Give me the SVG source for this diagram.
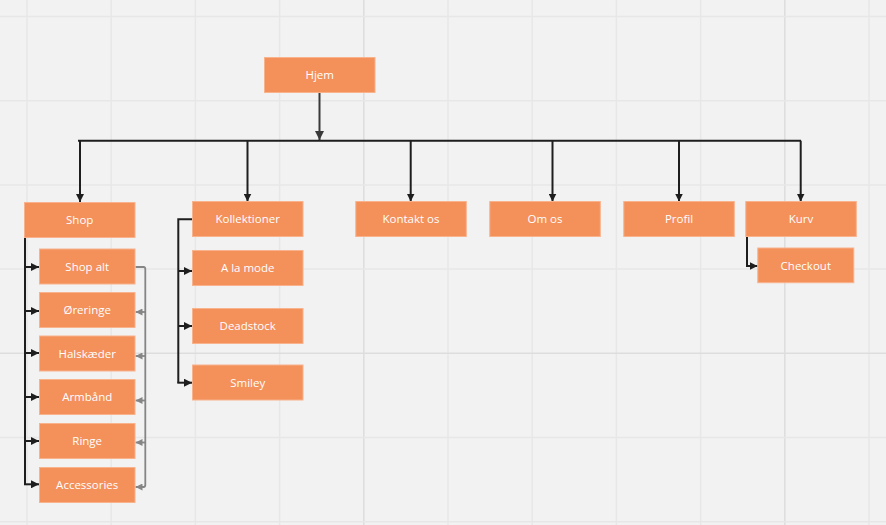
<svg xmlns="http://www.w3.org/2000/svg" width="886" height="525" viewBox="0 0 886 525">
  <style>
    .grid { stroke: #e7e7e7; stroke-width: 1.5; }
    .major { stroke: #dddddd; stroke-width: 1.5; }
    .box { fill: #f4905a; stroke: #f8b28c; stroke-width: 1; }
    .label { font-family: "Open Sans", "Liberation Sans", sans-serif; font-size: 11.5px; fill: #ffffff; text-anchor: middle; }
    .link { fill: none; stroke: #1e1e1e; stroke-width: 2; }
    .link-soft { fill: none; stroke: #3a3a3a; stroke-width: 2; }
    .link-grey { fill: none; stroke: #858585; stroke-width: 1.8; }
  </style>
  <defs>
    <marker id="arrow" viewBox="0 0 10 10" refX="10" refY="5" markerWidth="8" markerHeight="8" markerUnits="userSpaceOnUse" orient="auto">
      <path d="M0,0 L10,5 L0,10 z" fill="#1e1e1e"/>
    </marker>
    <marker id="arrow-soft" viewBox="0 0 10 10" refX="10" refY="5" markerWidth="9" markerHeight="9" markerUnits="userSpaceOnUse" orient="auto">
      <path d="M0,0 L10,5 L0,10 z" fill="#3a3a3a"/>
    </marker>
    <marker id="arrow-grey" viewBox="0 0 10 10" refX="10" refY="5" markerWidth="7" markerHeight="7" markerUnits="userSpaceOnUse" orient="auto">
      <path d="M0,0 L10,5 L0,10 z" fill="#858585"/>
    </marker>
  </defs>

  <!-- canvas -->
  <rect x="0" y="0" width="886" height="525" fill="#f2f2f2"/>
  <g id="grid">
    <line class="grid" x1="27" y1="0" x2="27" y2="525"/>
    <line class="grid" x1="111.2" y1="0" x2="111.2" y2="525"/>
    <line class="grid" x1="195.4" y1="0" x2="195.4" y2="525"/>
    <line class="grid" x1="279.6" y1="0" x2="279.6" y2="525"/>
    <line class="major" x1="363.8" y1="0" x2="363.8" y2="525"/>
    <line class="grid" x1="448" y1="0" x2="448" y2="525"/>
    <line class="grid" x1="532.2" y1="0" x2="532.2" y2="525"/>
    <line class="grid" x1="616.4" y1="0" x2="616.4" y2="525"/>
    <line class="grid" x1="700.6" y1="0" x2="700.6" y2="525"/>
    <line class="major" x1="784.8" y1="0" x2="784.8" y2="525"/>
    <line class="grid" x1="869" y1="0" x2="869" y2="525"/>
    <line class="grid" x1="0" y1="16.5" x2="886" y2="16.5"/>
    <line class="grid" x1="0" y1="100.7" x2="886" y2="100.7"/>
    <line class="grid" x1="0" y1="184.9" x2="886" y2="184.9"/>
    <line class="grid" x1="0" y1="269.1" x2="886" y2="269.1"/>
    <line class="major" x1="0" y1="353.3" x2="886" y2="353.3"/>
    <line class="grid" x1="0" y1="437.5" x2="886" y2="437.5"/>
    <line class="grid" x1="0" y1="521.7" x2="886" y2="521.7"/>
  </g>

  <!-- connectors -->
  <g id="connectors">
    <path class="link-soft" d="M319.5,92.5 V140" marker-end="url(#arrow-soft)"/>
    <path class="link" d="M78,140.7 H801"/>
    <path class="link" d="M80,140.7 V202" marker-end="url(#arrow)"/>
    <path class="link" d="M247.5,140.7 V201.5" marker-end="url(#arrow)"/>
    <path class="link" d="M410.7,140.7 V201.5" marker-end="url(#arrow)"/>
    <path class="link" d="M552.5,140.7 V201.5" marker-end="url(#arrow)"/>
    <path class="link" d="M679,140.7 V201.5" marker-end="url(#arrow)"/>
    <path class="link" d="M800.7,140.7 V201.5" marker-end="url(#arrow)"/>

    <!-- Shop branch -->
    <path class="link" d="M25,237.5 V484.3"/>
    <path class="link" d="M25,267 H39" marker-end="url(#arrow)"/>
    <path class="link" d="M25,311 H39" marker-end="url(#arrow)"/>
    <path class="link" d="M25,353 H39" marker-end="url(#arrow)"/>
    <path class="link" d="M25,397 H39" marker-end="url(#arrow)"/>
    <path class="link" d="M25,441 H39" marker-end="url(#arrow)"/>
    <path class="link" d="M24,484.3 H39" marker-end="url(#arrow)"/>

    <!-- Shop alt side links -->
    <path class="link-grey" d="M135.5,267 H143.5 Q145.3,267 145.3,269 V485 Q145.3,487 143.5,487 H135.5" marker-end="url(#arrow-grey)"/>
    <path class="link-grey" d="M145.3,312 H135.5" marker-end="url(#arrow-grey)"/>
    <path class="link-grey" d="M145.3,356 H135.5" marker-end="url(#arrow-grey)"/>
    <path class="link-grey" d="M145.3,400.5 H135.5" marker-end="url(#arrow-grey)"/>
    <path class="link-grey" d="M145.3,442.5 H135.5" marker-end="url(#arrow-grey)"/>

    <!-- Kollektioner branch -->
    <path class="link" d="M192,219.3 H178.3 V382.7"/>
    <path class="link" d="M178.3,271 H192" marker-end="url(#arrow)"/>
    <path class="link" d="M178.3,326 H192" marker-end="url(#arrow)"/>
    <path class="link" d="M177.3,382.7 H192" marker-end="url(#arrow)"/>

    <!-- Kurv branch -->
    <path class="link" d="M747,237 V266 H757.5" marker-end="url(#arrow)"/>
  </g>

  <!-- nodes -->
  <g id="hjem"><rect class="box" x="264.5" y="57.5" width="110.5" height="35"/><text class="label" x="319.7" y="79">Hjem</text></g>

  <g id="shop"><rect class="box" x="24.5" y="202.5" width="110.5" height="35"/><text class="label" x="79.7" y="224">Shop</text></g>
  <g id="shop-alt"><rect class="box" x="39.5" y="249" width="95.5" height="35"/><text class="label" x="87.2" y="270.5">Shop alt</text></g>
  <g id="oreringe"><rect class="box" x="39.5" y="292.5" width="95.5" height="35"/><text class="label" x="87.2" y="314">Øreringe</text></g>
  <g id="halskaeder"><rect class="box" x="39.5" y="336" width="95.5" height="35"/><text class="label" x="87.2" y="357.5">Halskæder</text></g>
  <g id="armband"><rect class="box" x="39.5" y="379.5" width="95.5" height="35"/><text class="label" x="87.2" y="401">Armbånd</text></g>
  <g id="ringe"><rect class="box" x="39.5" y="423.5" width="95.5" height="35"/><text class="label" x="87.2" y="445">Ringe</text></g>
  <g id="accessories"><rect class="box" x="39.5" y="467.5" width="95.5" height="35"/><text class="label" x="87.2" y="489">Accessories</text></g>

  <g id="kollektioner"><rect class="box" x="192.5" y="201.5" width="110.5" height="35"/><text class="label" x="247.7" y="223">Kollektioner</text></g>
  <g id="a-la-mode"><rect class="box" x="192.5" y="250.5" width="110.5" height="35"/><text class="label" x="247.7" y="272">A la mode</text></g>
  <g id="deadstock"><rect class="box" x="192.5" y="308.5" width="110.5" height="35"/><text class="label" x="247.7" y="330">Deadstock</text></g>
  <g id="smiley"><rect class="box" x="192.5" y="365" width="110.5" height="35"/><text class="label" x="247.7" y="386.5">Smiley</text></g>

  <g id="kontakt-os"><rect class="box" x="355.8" y="201.5" width="110.5" height="35"/><text class="label" x="411" y="223">Kontakt os</text></g>
  <g id="om-os"><rect class="box" x="489.8" y="201.5" width="110.5" height="35"/><text class="label" x="545" y="223">Om os</text></g>
  <g id="profil"><rect class="box" x="623.8" y="201.5" width="110.5" height="35"/><text class="label" x="679" y="223">Profil</text></g>
  <g id="kurv"><rect class="box" x="745.8" y="201.5" width="110.5" height="35"/><text class="label" x="801" y="223">Kurv</text></g>
  <g id="checkout"><rect class="box" x="757.8" y="248" width="96" height="34.7"/><text class="label" x="805.8" y="269.5">Checkout</text></g>
</svg>
